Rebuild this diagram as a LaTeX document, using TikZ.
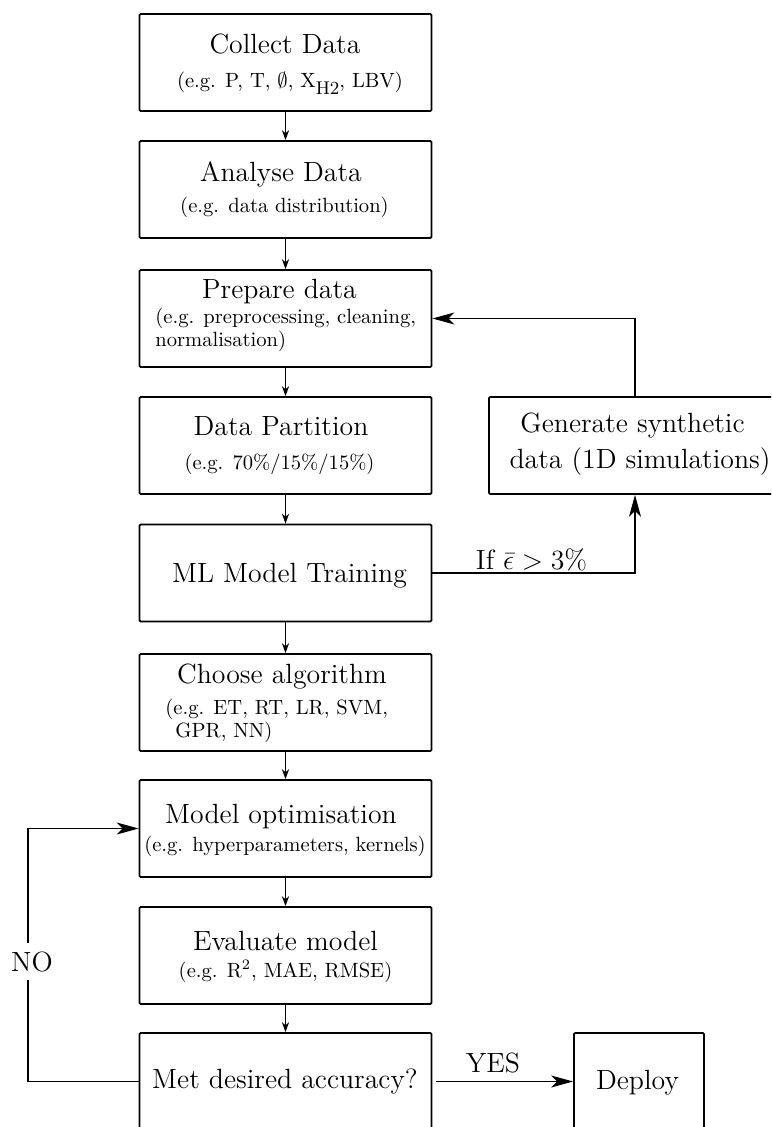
\documentclass[tikz,border=0pt]{standalone}
\usepackage{fix-cm}
\usetikzlibrary{arrows.meta}
\newcommand\tsz{\fontsize{13.9pt}{16.5pt}\selectfont}
\newcommand\ssz{\fontsize{10.3pt}{12.4pt}\selectfont}
\newcommand\hsub{\raisebox{-3.3pt}{\fontsize{9.2pt}{11pt}\selectfont H2}}
\tikzset{
 box/.style={draw, line width=0.9pt, rounded corners=0.6pt, minimum width=146pt, minimum height=48.5pt, inner sep=0pt},
 ttl/.style={anchor=base, inner sep=0pt, font=\tsz},
 sub/.style={anchor=base, inner sep=0pt, font=\ssz},
 subl/.style={anchor=base west, inner sep=0pt, font=\ssz},
 sarrow/.style={line width=0.6pt, -{Stealth[length=5pt,width=3.6pt]}},
 barrow/.style={line width=0.6pt, -{Stealth[length=11pt,width=6pt,inset=3pt]}},
}
\begin{document}
\begin{tikzpicture}[x=0.5pt,y=-0.5pt]
\useasboundingbox (0,0) rectangle (771,1127);
\clip (0,0) rectangle (771,1127);
% boxes
\node[box] (b1) at (285.5,62.5) {};
\node[box] (b2) at (285.5,189.5) {};
\node[box] (b3) at (285.5,318.5) {};
\node[box] (b4) at (285.5,445.5) {};
\node[box] (b5) at (285.5,573) {};
\node[box] (b6) at (285.5,702.5) {};
\node[box] (b7) at (285.5,828.5) {};
\node[box] (b8) at (285.5,955.5) {};
\node[box] (b9) at (285.5,1081.5) {};
\node[box, minimum width=65pt] (dep) at (639,1081.5) {};
\node[box] (gen) at (635,445.5) {};
% texts
\node[ttl] (t1) at (285,54) {Collect Data};
\node[sub] (s1) at (290,88) {(e.g. P, T, $\emptyset$, X\hsub, LBV)};
\node[ttl] (t2) at (281,182) {Analyse Data};
\node[sub] (s2) at (284.5,213) {(e.g. data distribution)};
\node[ttl] (t3) at (279.5,299) {Prepare data};
\node[subl] (s3a) at (155,324) {(e.g. preprocessing, cleaning,};
\node[subl] (s3b) at (155,347) {normalisation)};
\node[ttl] (t4) at (281,436) {Data Partition};
\node[sub] (s4) at (279.5,470) {(e.g. 70\%/15\%/15\%)};
\node[ttl] (t5) at (289.5,582) {ML Model Training};
\node[ttl] (t6) at (282,683) {Choose algorithm};
\node[subl] (s6a) at (165,714) {(e.g. ET, RT, LR, SVM,};
\node[subl] (s6b) at (175,737) {GPR, NN)};
\node[ttl] (t7) at (281,823) {Model optimisation};
\node[sub] (s7) at (285,851) {(e.g. hyperparameters, kernels)};
\node[ttl] (t8) at (285.5,950) {Evaluate model};
\node[sub] (s8) at (285.5,977) {(e.g. R$^2$, MAE, RMSE)};
\node[ttl] (t9) at (285,1088) {Met desired accuracy?};
\node[ttl] (td) at (637.5,1089) {Deploy};
\node[ttl] (tg1) at (632.5,433) {Generate synthetic};
\node[ttl] (tg2) at (640,468) {data (1D simulations)};
% vertical flow
\draw[sarrow] (b1.south) -- (b2.north);
\draw[sarrow] (b2.south) -- (b3.north);
\draw[sarrow] (b3.south) -- (b4.north);
\draw[sarrow] (b4.south) -- (b5.north);
\draw[sarrow] (b5.south) -- (b6.north);
\draw[sarrow] (b6.south) -- (b7.north);
\draw[sarrow] (b7.south) -- (b8.north);
\draw[sarrow] (b8.south) -- (b9.north);
% feedback via synthetic data
\draw[barrow] (b5.east) -| (gen.south);
\draw[barrow] (gen.north) |- (b3.east);
\node[ttl] (lif) at (531.5,569) {If $\bar{\epsilon} > 3\%$};
% NO loop
\coordinate (nob) at (28,1081.5);
\coordinate (not) at (28,828.5);
\draw[barrow] (b9.west) -- (nob) -- (not) -- (b7.west);
\node[font=\tsz, fill=white, inner xsep=1pt, inner ysep=4pt] (no) at (32,961.5) {NO};
% YES
\draw[barrow, shorten <=2pt] (b9.east) -- (dep.west);
\node[ttl] (yes) at (493,1072) {YES};
\end{tikzpicture}
\end{document}
